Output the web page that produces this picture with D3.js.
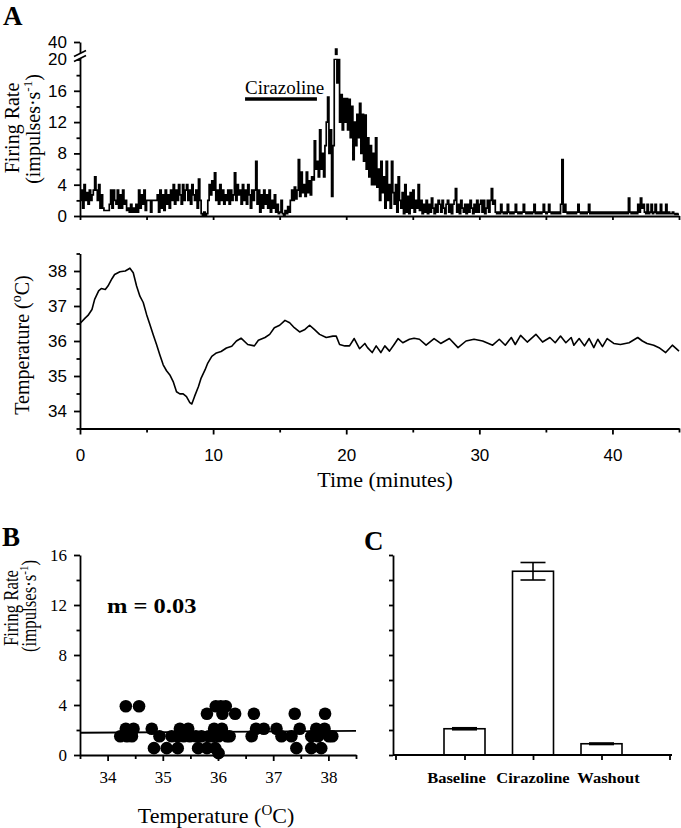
<!DOCTYPE html>
<html><head><meta charset="utf-8">
<script src="https://cdn.jsdelivr.net/npm/d3@7"></script>
<style>body{margin:0;background:#fff} svg{display:block}</style>
</head><body>
<script>
// ---------------- DATA ----------------
// Panel A (top): firing rate in 0.1-minute bins (impulses/s)
const rateBin = 0.1;
const rateValues = [
2,3.3,1,4,2,3,1.5,3.3,2,2.7,
3.3,5,3.3,2,4,1,2.7,1,0.7,0.7,
0.7,0.7,1.5,3.3,1,3.3,2,1.5,3.3,1,
2.7,1,3.3,1.5,2,0.7,1,0.5,1.5,0.5,
1,0.5,1.5,0.5,3.3,1,2.7,1.5,3.3,0.7,
2,2,2,0.5,2,2,2,2,2.7,0.5,
3.3,1,2.7,0.7,3.3,1.5,2.7,1,3.3,2,
4,1.5,3.3,2,4,2.7,1.5,4,2,3.3,
4,2,3.3,1.5,4,2.7,2,3.3,1,4.7,
2,0.3,0,0.5,0,0.3,2,4,2.7,4.5,
3.3,5.5,2,3.3,1.5,4,2,3.3,1.5,2.7,
2,3.3,1.5,3.3,2,2.7,5.5,2,4,2.7,
3.3,1.5,4,2,3.3,1.5,4,2.7,1,3.3,
2,3.3,7,1.5,3.3,0.5,2.7,1,3.3,1.5,
2.7,1,3.3,0.5,2,1,2.7,0.5,1.5,0.3,
0.5,2,0.3,0,0.7,0.3,1.2,0.5,2,3.3,
2,3.7,2.2,3.3,7.2,2.5,5.6,3,4,2.5,
5.6,3,4.5,2.7,5,4.6,9.6,6,7,5,
11,6,8,5,9,12,15.2,8,11,2.5,
9,20.5,32,17,20.5,12,15.5,11,15,12,
15,11,14.9,10,14,7.2,12,9,13,10,
14.4,8,13,7,12.9,6,10,5,9,4,
8,4,10,3.7,6,2,7,3,5,1,
7,2,4,1,7,3,1.5,4,0.5,5,
2,1,3,0.3,4,0.5,2.5,0.3,3,1,
3.3,0.5,2,1,4,0.7,2,0.3,1.5,0.5,
2,0.3,1.5,0.5,2.3,1,0.3,1.5,0.5,2,
1.5,0.5,2,1,0.3,1.5,2,0.5,1.5,0.3,
1.5,2,3.5,0.5,1.5,0.3,2,1,0.5,1.5,
0.3,1.5,0.5,2,1,0.3,1.5,0.5,2,0.5,
1.5,2,0.5,2,0.3,1,2,0.5,2,3.5,
1.5,2,0.5,0.3,0.5,0.3,1.5,0.5,0.3,0.5,
0.3,1.5,0.5,0.3,0.5,0.3,0.5,1.5,0.5,0.3,
0.5,0.3,0.5,1.5,0.5,0.3,0.5,0.3,0.5,0.3,
0.5,1.5,0.3,0.5,0.3,0.5,0.3,0.5,1.5,0.5,
0.3,0.5,1.5,0.5,0.3,0.5,0.3,0.5,0.3,0.5,
0.3,1.5,7.2,0.5,1.5,0.5,0.3,0.5,0.3,0.5,
0.3,0.5,0.3,0.5,1.5,0.5,0.3,0.5,0.3,0.5,
0.3,0.5,1.5,0.3,0.5,0.3,0.5,0.3,0.5,0.3,
0.5,0.3,0.5,0.3,0.5,0.3,0.5,0.3,0.5,0.3,
0.5,0.3,0.5,0.3,0.5,0.3,0.5,0.3,0.5,0.3,
0.5,0.3,2.3,0.5,0.3,0.5,0.3,0.5,0.3,1.5,
0.5,2.3,1,1.5,0.5,0.3,1.5,0.3,0.5,1.5,
0.3,0.5,1.5,0.3,0.5,0.3,1.5,0.3,0.5,0.3,
1.5,0.3,0.5,0.3,0.3,0.5,0.3,0.2,0.3,0.2
];
const rateTicks = [0,4,8,12,16,20,40];
const rateMinorTicks = [2,6,10,14,18];
const drugName = "Cirazoline";
const drugStart = 12.4, drugEnd = 17.8;

// Panel A (bottom): temperature trace
const tempTimes = [0,0.4,0.6,0.9,1.1,1.4,1.6,1.9,2.1,2.4,2.6,3.0,3.4,3.75,4.0,4.25,4.5,4.75,5.0,5.25,5.5,5.75,6.0,6.25,6.5,6.75,7.0,7.25,7.5,7.75,8.0,8.25,8.4,8.6,8.9,9.1,9.4,9.6,9.9,10.25,10.6,11.0,11.4,11.75,12.1,12.6,13.1,13.4,13.9,14.25,14.6,15.0,15.4,15.75,16.1,16.5,16.9,17.25,17.6,18.0,18.5,19.0,19.25,19.5,19.9,20.25,20.6,21.0,21.4,21.6,21.95,22.25,22.6,22.9,23.25,23.6,23.9,24.25,24.75,25.1,25.5,26.0,26.6,27.1,27.75,28.4,29.0,29.6,30.25,31.0,31.5,31.95,32.4,32.7,33.1,33.6,34.25,34.75,35.3,35.7,36.1,36.5,36.9,37.1,37.5,37.9,38.25,38.6,38.9,39.25,39.6,40.1,40.6,41.25,41.9,42.25,42.6,43.1,43.5,44.0,44.5,45.0];
const tempValues = [36.5,36.66,36.73,36.9,37.19,37.43,37.5,37.47,37.57,37.78,37.9,37.98,38.0,38.08,37.95,37.57,37.28,37.1,36.76,36.47,36.18,35.9,35.6,35.32,35.15,35.03,34.84,34.55,34.49,34.49,34.41,34.24,34.2,34.41,34.7,34.94,35.18,35.37,35.56,35.66,35.7,35.8,35.85,36.0,36.08,35.9,35.86,36.02,36.1,36.19,36.38,36.45,36.59,36.52,36.38,36.26,36.33,36.45,36.33,36.19,36.1,36.14,36.14,35.9,35.86,35.86,36.07,35.78,35.93,35.81,35.67,35.86,35.67,35.86,35.71,35.9,36.07,35.95,36.05,36.08,36.05,35.88,36.07,35.93,36.07,35.81,36.0,36.05,36.0,35.88,36.05,35.88,36.1,35.9,36.16,35.97,36.19,35.97,36.1,35.95,36.14,35.95,36.1,35.88,36.07,35.86,36.07,35.81,36.05,35.84,36.07,35.93,35.9,35.95,36.1,36.0,35.93,35.88,35.81,35.67,35.88,35.71];
const tempTicks = [34,35,36,37,38];
const tempMinorTicks = [33.5,34.5,35.5,36.5,37.5,38.5];
const timeTicks = [0,10,20,30,40];
const timeMinorTicks = [5,15,25,35,45];

// Panel B: firing rate vs temperature
const scatterTemp = [34.33,34.57,35.96,36.05,36.14,
  35.80,36.08,36.31,36.65,37.39,37.94,
  34.33,34.47,34.80,35.31,35.46,35.93,36.07,36.69,36.83,37.06,37.48,37.78,37.93,
  34.23,34.35,34.44,34.94,35.16,35.27,35.38,35.49,35.60,35.70,35.83,35.90,36.01,36.16,36.21,36.61,37.15,37.33,37.69,37.81,38.01,38.07,
  34.84,35.07,35.27,35.64,35.80,35.95,37.42,37.69,37.87,
  36.01];
const scatterRate = [3.9,3.9,3.9,3.9,3.9,
  3.3,3.3,3.3,3.3,3.3,3.3,
  2.1,2.1,2.1,2.1,2.1,2.1,2.1,2.1,2.1,2.1,2.1,2.1,2.1,
  1.5,1.5,1.5,1.5,1.5,1.5,1.5,1.5,1.5,1.5,1.5,1.5,1.5,1.5,1.5,1.5,1.5,1.5,1.5,1.5,1.5,1.5,
  0.55,0.55,0.55,0.55,0.55,0.55,0.55,0.55,0.55,
  0.15];
const fitSlope = 0.03, fitIntercept = 0.775;
const fitLabel = "m = 0.03";
const bTempTicks = [34,35,36,37,38];
const bTempMinorTicks = [33.5,34.5,35.5,36.5,37.5,38.5];
const bRateTicks = [0,4,8,12,16];
const bRateMinorTicks = [2,6,10,14];

// Panel C: mean firing rate
const barCats = ["Baseline","Cirazoline","Washout"];
const barMeans = [2.1,14.7,0.9];
const barSems = [0.08,0.7,0.06];
const cTicks = [0,2,4,6,8,10,12,14,16];

// ---------------- DRAWING ----------------
const SERIF = "'Liberation Serif','Times New Roman',Times,serif";
const SANS = "'Liberation Sans',Arial,Helvetica,sans-serif";
const svg = d3.select("body").append("svg").attr("width",681).attr("height",828);

function styleAxis(g, fam, size, weight){
  g.selectAll("path,line").attr("stroke","#000").attr("stroke-width",1.8);
  g.selectAll("text").attr("font-family",fam).attr("font-size",size).attr("fill","#000").attr("font-weight",weight||"normal");
}
function minorAxis(axis, transform){
  const g = svg.append("g").attr("transform",transform).call(axis);
  g.select(".domain").remove();
  styleAxis(g, SANS, 12);
  return g;
}

// ===== Panel A top: firing rate =====
const x = d3.scaleLinear().domain([0,45]).range([80,679]);
const yR = d3.scaleLinear().domain([0,20,40]).range([216,59.5,42]);

const rateLine = d3.line()
  .x((d,i)=>x(i*rateBin))
  .y(d=>yR(d))
  .curve(d3.curveStepAfter);
svg.append("path").datum(rateValues.concat([rateValues[rateValues.length-1]]))
  .attr("d",rateLine).attr("fill","none").attr("stroke","#000").attr("stroke-width",1.7)
  .attr("stroke-linejoin","miter");

// axis break gap on the trace
svg.append("rect").attr("x",84).attr("width",595)
  .attr("y",yR(25)).attr("height",yR(20.9)-yR(25)).attr("fill","#fff");

const gYR = svg.append("g").attr("transform","translate(80,0)")
  .call(d3.axisLeft(yR).tickValues(rateTicks).tickSize(6).tickSizeOuter(0).tickPadding(7).tickFormat(d3.format("d")));
styleAxis(gYR, SANS, 17);
minorAxis(d3.axisLeft(yR).tickValues(rateMinorTicks).tickSize(3.5).tickFormat(""), "translate(80,0)");

// break marks
svg.append("polygon").attr("points","74,56.5 86,50.5 86,55.5 74,61.5").attr("fill","#fff");
svg.append("line").attr("x1",74).attr("y1",56.5).attr("x2",86).attr("y2",50.5).attr("stroke","#000").attr("stroke-width",1.6);
svg.append("line").attr("x1",74).attr("y1",61.5).attr("x2",86).attr("y2",55.5).attr("stroke","#000").attr("stroke-width",1.6);

const gXR = svg.append("g").attr("transform","translate(0,216)")
  .call(d3.axisBottom(x).tickValues(timeTicks.concat(timeMinorTicks)).tickSize(4).tickSizeOuter(0).tickFormat(""));
styleAxis(gXR, SANS, 16);

// drug bar
svg.append("line").attr("x1",x(drugStart)).attr("x2",x(drugEnd)).attr("y1",99).attr("y2",99)
  .attr("stroke","#000").attr("stroke-width",3.5);
svg.append("text").attr("x",x(drugStart)).attr("y",94).text(drugName)
  .attr("font-family",SERIF).attr("font-size",19);

// y label
svg.append("text").attr("transform","translate(19,128) rotate(-90)")
  .attr("text-anchor","middle").attr("font-family",SERIF).attr("font-size",20).text("Firing Rate");
const fr2 = svg.append("text").attr("transform","translate(40,129) rotate(-90)")
  .attr("text-anchor","middle").attr("font-family",SERIF).attr("font-size",20);
fr2.append("tspan").text("(impulses·s");
fr2.append("tspan").attr("dy",-8).attr("font-size",13).text("-1");
fr2.append("tspan").attr("dy",8).text(")");

// ===== Panel A bottom: temperature =====
const yT = d3.scaleLinear().domain([33.5,38.5]).range([428.5,253.5]);
const tempLine = d3.line().x((d,i)=>x(tempTimes[i])).y(d=>yT(d));
svg.append("path").datum(tempValues).attr("d",tempLine).attr("fill","none")
  .attr("stroke","#000").attr("stroke-width",1.6).attr("stroke-linejoin","round");

const gYT = svg.append("g").attr("transform","translate(80,0)")
  .call(d3.axisLeft(yT).tickValues(tempTicks).tickSize(6).tickSizeOuter(0).tickPadding(7).tickFormat(d3.format("d")));
styleAxis(gYT, SANS, 17);
minorAxis(d3.axisLeft(yT).tickValues(tempMinorTicks).tickSize(3.5).tickFormat(""), "translate(80,0)");

const gXT = svg.append("g").attr("transform","translate(0,428.5)")
  .call(d3.axisBottom(x).tickValues(timeTicks).tickSize(6).tickSizeOuter(0).tickPadding(14).tickFormat(d3.format("d")));
styleAxis(gXT, SANS, 17);
minorAxis(d3.axisBottom(x).tickValues(timeMinorTicks).tickSize(4).tickFormat(""), "translate(0,428.5)");

svg.append("text").attr("x",385).attr("y",487).attr("text-anchor","middle")
  .attr("font-family",SERIF).attr("font-size",22).text("Time (minutes)");

const tl = svg.append("text").attr("transform","translate(29,345) rotate(-90)")
  .attr("text-anchor","middle").attr("font-family",SERIF).attr("font-size",20);
tl.append("tspan").text("Temperature (");
tl.append("tspan").attr("dy",-8).attr("font-size",14).text("o");
tl.append("tspan").attr("dy",8).text("C)");

svg.append("text").attr("x",3).attr("y",25).attr("font-family",SERIF).attr("font-weight","bold")
  .attr("font-size",27).text("A");

// ===== Panel B =====
const xB = d3.scaleLinear().domain([33.5,38.5]).range([80,356]);
const yB = d3.scaleLinear().domain([0,16]).range([755,555]);

svg.append("g").selectAll("circle").data(scatterTemp).join("circle")
  .attr("cx",d=>xB(d)).attr("cy",(d,i)=>yB(scatterRate[i])).attr("r",6.3).attr("fill","#000");

svg.append("line").attr("x1",xB(33.5)).attr("x2",xB(38.5))
  .attr("y1",yB(fitIntercept+fitSlope*33.5)).attr("y2",yB(fitIntercept+fitSlope*38.5))
  .attr("stroke","#000").attr("stroke-width",1.8);

const gYB = svg.append("g").attr("transform","translate(80,0)")
  .call(d3.axisLeft(yB).tickValues(bRateTicks).tickSize(6).tickSizeOuter(0).tickPadding(7).tickFormat(d3.format("d")));
styleAxis(gYB, SERIF, 17);
minorAxis(d3.axisLeft(yB).tickValues(bRateMinorTicks).tickSize(3.5).tickFormat(""), "translate(80,0)");

const gXB = svg.append("g").attr("transform","translate(0,755)")
  .call(d3.axisBottom(xB).tickValues(bTempTicks).tickSize(6).tickSizeOuter(0).tickPadding(10).tickFormat(d3.format("d")));
styleAxis(gXB, SERIF, 17);
minorAxis(d3.axisBottom(xB).tickValues(bTempMinorTicks).tickSize(4).tickFormat(""), "translate(0,755)");

svg.append("text").attr("transform","translate(107,613) scale(1,0.85)").attr("font-family",SERIF).attr("font-weight","bold")
  .attr("font-size",24.5).text(fitLabel);

svg.append("text").attr("transform","translate(18,608) scale(1,0.84) rotate(-90)")
  .attr("text-anchor","middle").attr("font-family",SERIF).attr("font-size",20).text("Firing Rate");
const bl2 = svg.append("text").attr("transform","translate(36,606) scale(1,0.84) rotate(-90)")
  .attr("text-anchor","middle").attr("font-family",SERIF).attr("font-size",20);
bl2.append("tspan").text("(impulses·s");
bl2.append("tspan").attr("dy",-8).attr("font-size",13).text("-1");
bl2.append("tspan").attr("dy",8).text(")");

const bx = svg.append("text").attr("x",216).attr("y",823).attr("text-anchor","middle")
  .attr("font-family",SERIF).attr("font-size",22);
bx.append("tspan").text("Temperature (");
bx.append("tspan").attr("dy",-8).attr("font-size",15).text("O");
bx.append("tspan").attr("dy",8).text("C)");

svg.append("text").attr("x",2).attr("y",546).attr("font-family",SERIF).attr("font-weight","bold")
  .attr("font-size",27).text("B");

// ===== Panel C =====
const xC = d3.scalePoint().domain(barCats).range([396,670]).padding(1);
const yC = d3.scaleLinear().domain([0,16]).range([755,555]);
const barW = 41, capW = 25;

const bars = svg.append("g");
bars.selectAll("rect").data(barCats).join("rect")
  .attr("x",d=>xC(d)-barW/2).attr("width",barW)
  .attr("y",(d,i)=>yC(barMeans[i])).attr("height",(d,i)=>yC(0)-yC(barMeans[i]))
  .attr("fill","#fff").attr("stroke","#000").attr("stroke-width",1.6);
barCats.forEach((c,i)=>{
  const cx = xC(c), hi = yC(barMeans[i]+barSems[i]), lo = yC(barMeans[i]-barSems[i]);
  const sw = 1.6;
  bars.append("line").attr("x1",cx).attr("x2",cx).attr("y1",hi).attr("y2",lo).attr("stroke","#000").attr("stroke-width",sw);
  bars.append("line").attr("x1",cx-capW/2).attr("x2",cx+capW/2).attr("y1",hi).attr("y2",hi).attr("stroke","#000").attr("stroke-width",sw);
  bars.append("line").attr("x1",cx-capW/2).attr("x2",cx+capW/2).attr("y1",lo).attr("y2",lo).attr("stroke","#000").attr("stroke-width",sw);
});

const gYC = svg.append("g").attr("transform","translate(393,0)")
  .call(d3.axisLeft(yC).tickValues(cTicks).tickSize(4).tickSizeOuter(0).tickFormat(""));
styleAxis(gYC, SERIF, 16);
const gXC = svg.append("g").attr("transform","translate(0,755)")
  .call(d3.axisBottom(xC).tickSize(5).tickSizeOuter(5).tickPadding(14).tickFormat(""));
styleAxis(gXC, SERIF, 16);
gXC.select(".domain").attr("d","M393,0H672M396,0V5M670,0V5");

const labelShift = {"Baseline":-8,"Cirazoline":0,"Washout":7};
svg.append("g").selectAll("text").data(barCats).join("text")
  .attr("transform",d=>`translate(${xC(d)+labelShift[d]},783) scale(1,0.9)`).attr("text-anchor","middle")
  .attr("font-family",SERIF).attr("font-weight","bold").attr("font-size",16.5).text(d=>d);

svg.append("text").attr("x",364).attr("y",550).attr("font-family",SERIF).attr("font-weight","bold")
  .attr("font-size",27).text("C");
</script>
</body></html>
